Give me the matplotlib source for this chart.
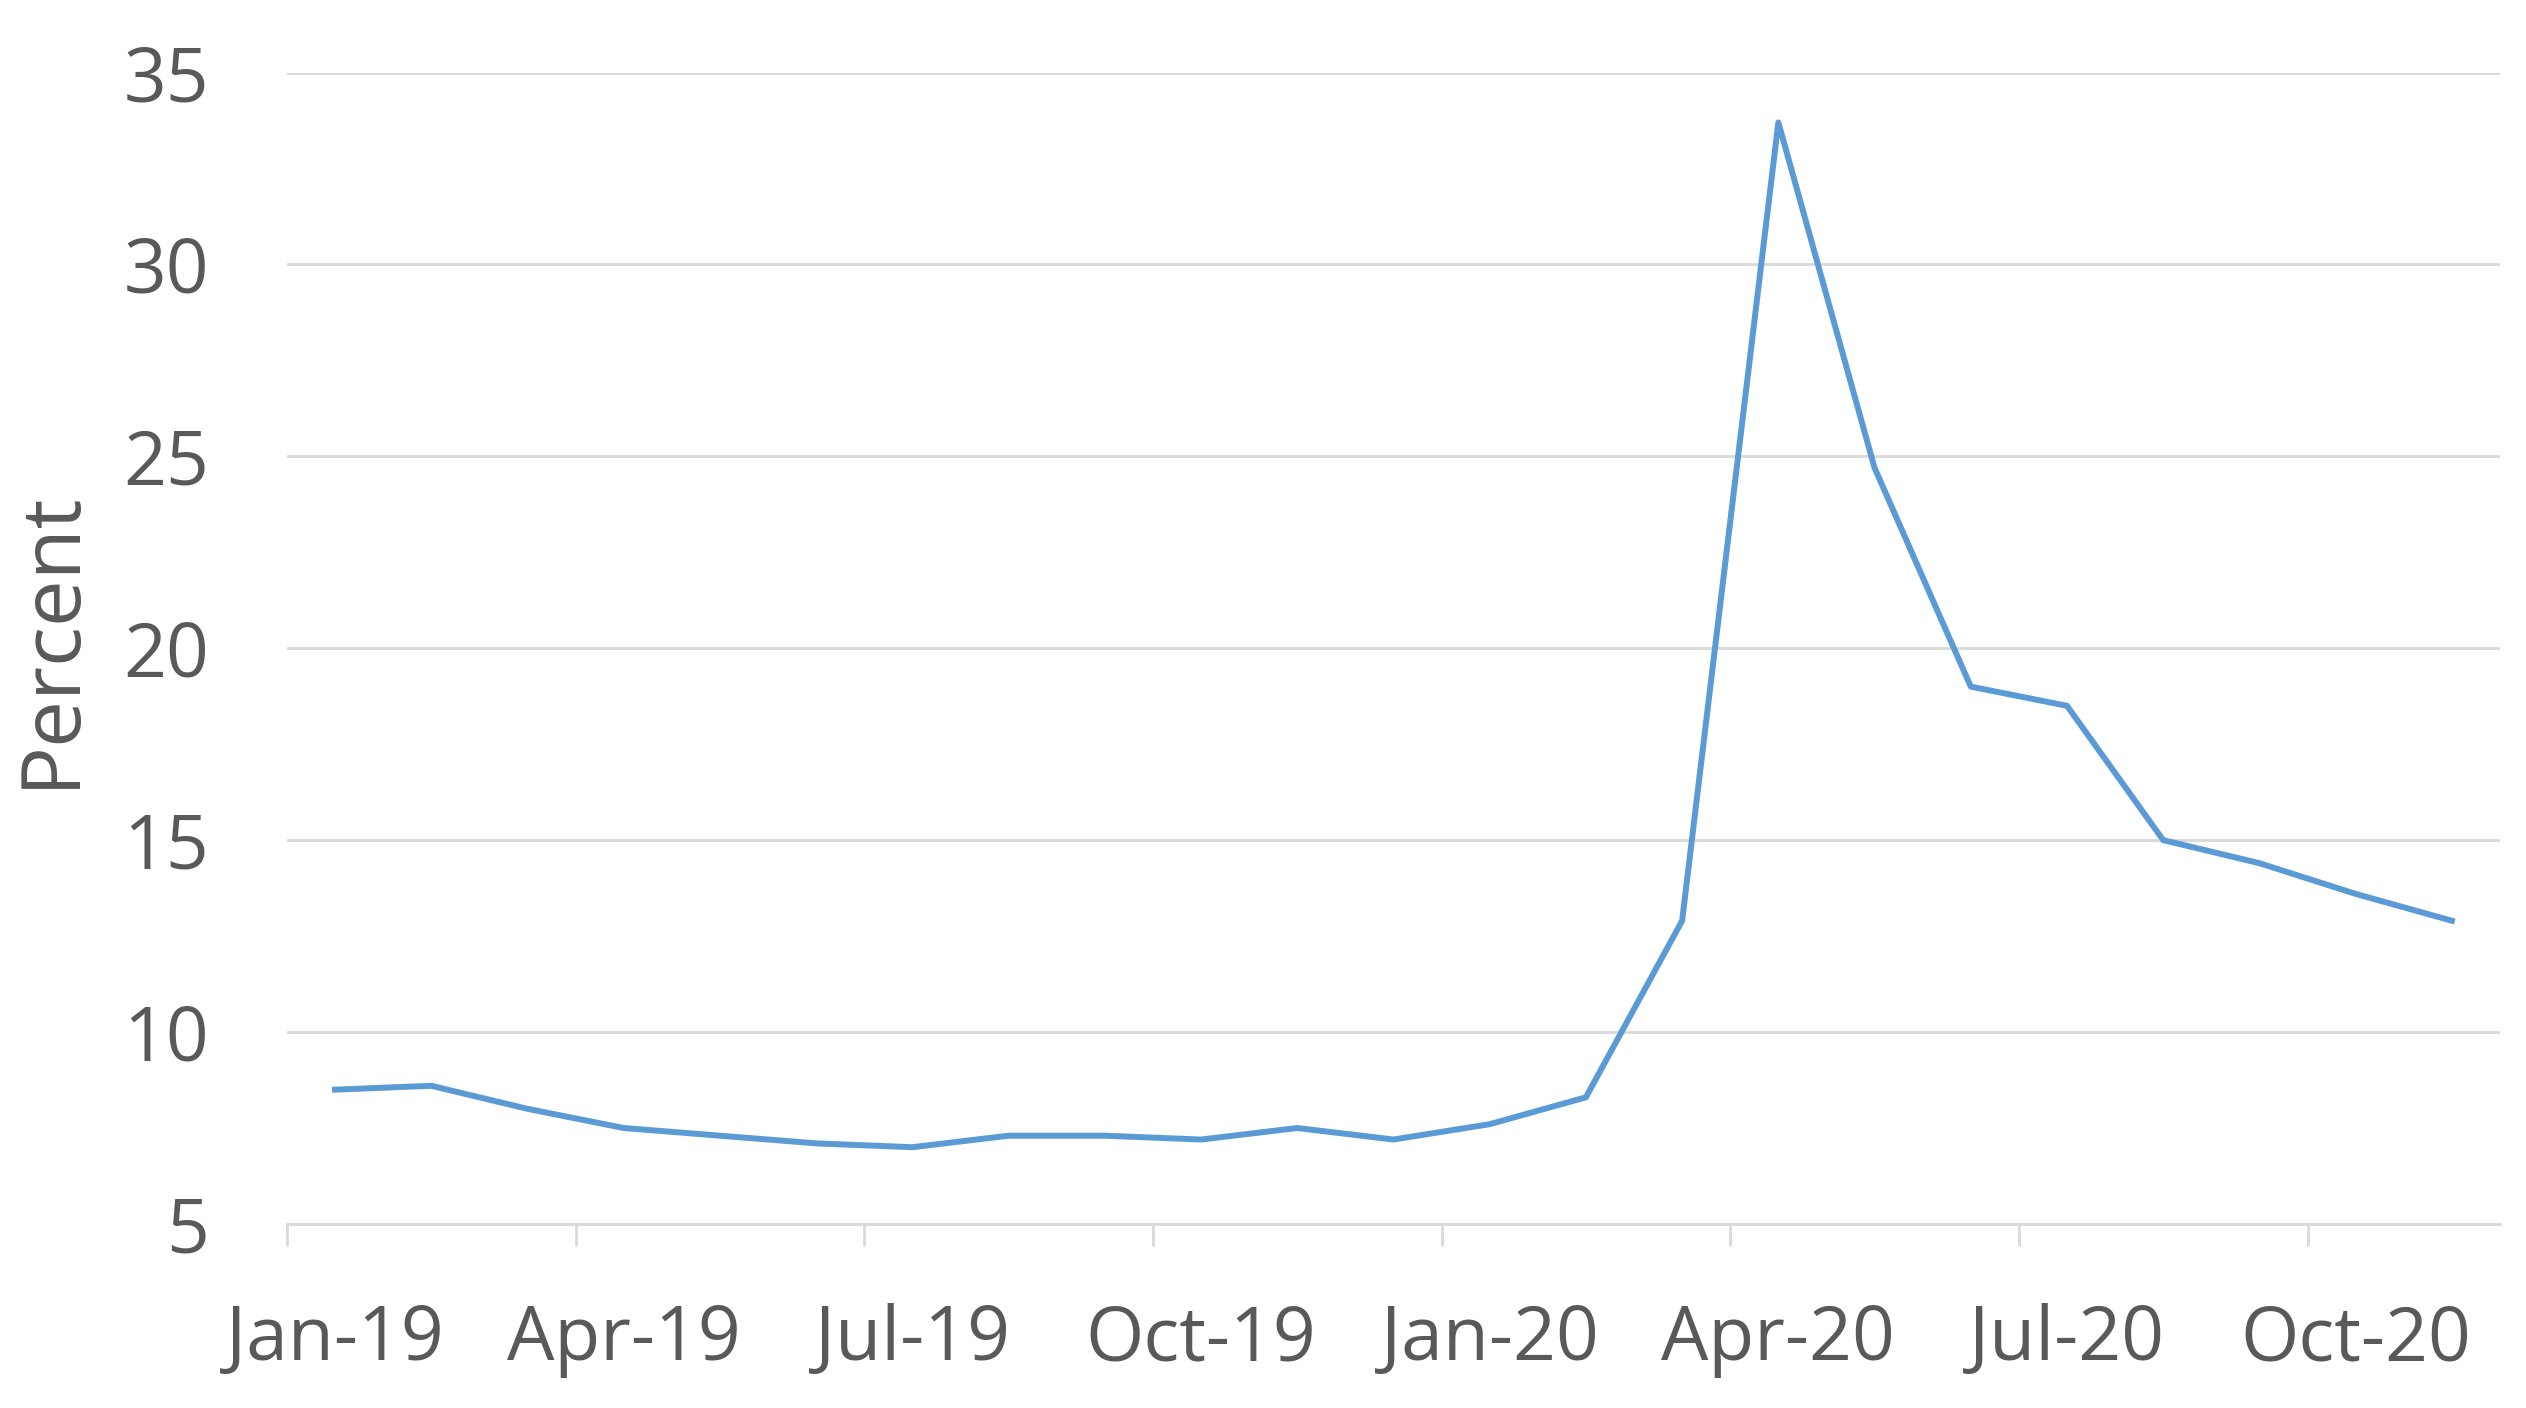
import matplotlib

matplotlib.use("Agg")
import matplotlib.pyplot as plt

# Monthly values, Jan-19 .. Nov-20 (percent)
months = [
    "Jan-19", "Feb-19", "Mar-19", "Apr-19", "May-19", "Jun-19",
    "Jul-19", "Aug-19", "Sep-19", "Oct-19", "Nov-19", "Dec-19",
    "Jan-20", "Feb-20", "Mar-20", "Apr-20", "May-20", "Jun-20",
    "Jul-20", "Aug-20", "Sep-20", "Oct-20", "Nov-20",
]
percent = [
    8.5, 8.6, 8.0, 7.5, 7.3, 7.1,
    7.0, 7.3, 7.3, 7.2, 7.5, 7.2,
    7.6, 8.3, 12.9, 33.7, 24.7, 19.0,
    18.5, 15.0, 14.4, 13.6, 12.9,
]
y_ticks = [5, 10, 15, 20, 25, 30, 35]

TEXT = "#595959"
GRID = "#D9D9D9"
LINE = "#5B9BD5"

plt.rcParams["font.family"] = ["Open Sans", "DejaVu Sans"]

fig = plt.figure(figsize=(25.26, 14.08), dpi=100)
ax = fig.add_axes([0.1136, 0.1307, 0.8761, 0.8178])

x = list(range(len(months)))
ax.plot(x, percent, color=LINE, linewidth=4.3, solid_joinstyle="round")

ax.set_xlim(-0.5, len(months) - 0.5)
ax.set_ylim(5, 35)
ax.set_yticks(y_ticks)
ax.yaxis.grid(True, color=GRID, linewidth=2)
ax.set_axisbelow(True)

# category-style axis: tick marks between groups, labels centred on months
ax.set_xticks([i - 0.5 for i in range(0, len(months), 3)])
ax.set_xticks(list(range(0, len(months), 3)), minor=True)
ax.set_xticklabels([])
ax.set_xticklabels([months[i] for i in range(0, len(months), 3)], minor=True)
ax.tick_params(axis="x", which="major", length=16, width=2, color=GRID)
ax.tick_params(axis="x", which="minor", length=0, pad=57,
               labelsize=54, labelcolor=TEXT)
ax.tick_params(axis="y", length=0, pad=56, labelsize=54, labelcolor=TEXT)

for side in ["top", "right", "left"]:
    ax.spines[side].set_visible(False)
ax.spines["bottom"].set_color(GRID)
ax.spines["bottom"].set_linewidth(2)

ax.set_ylabel("Percent", fontsize=60, color=TEXT, labelpad=22)
ax.yaxis.label.set_y(0.508)

fig.savefig("out.png", dpi=100)
